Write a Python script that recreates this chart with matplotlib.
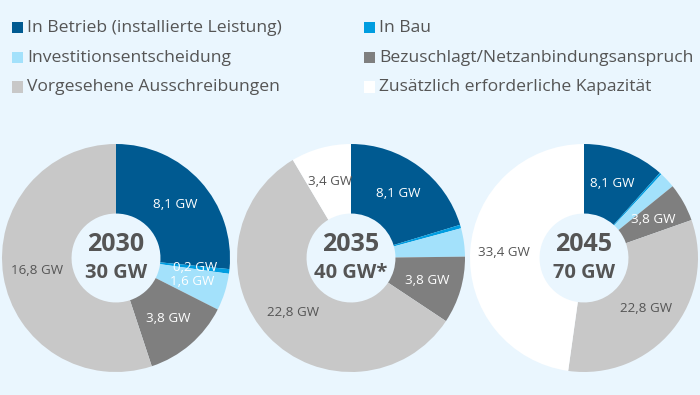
import matplotlib
matplotlib.use("Agg")
import matplotlib.pyplot as plt
from matplotlib.patches import Rectangle
import numpy as np

plt.rcParams['font.family'] = ['Open Sans', 'DejaVu Sans']

categories = ["In Betrieb (installierte Leistung)", "In Bau",
              "Investitionsentscheidung", "Bezuschlagt/Netzanbindungsanspruch",
              "Vorgesehene Ausschreibungen", "Zusätzlich erforderliche Kapazität"]
colors = ["#005a91", "#009de0", "#a3e1fb", "#7f7f7f", "#c8c8c8", "#ffffff"]

years = ["2030", "2035", "2045"]
totals = ["30 GW", "40 GW*", "70 GW"]
values_2030 = [8.1, 0.2, 1.6, 3.8, 16.8, 0.0]
values_2035 = [8.1, 0.2, 1.6, 3.8, 22.8, 3.4]
values_2045 = [8.1, 0.2, 1.6, 3.8, 22.8, 33.4]
labels_2030 = ["8,1 GW", "0,2 GW", "1,6 GW", "3,8 GW", "16,8 GW", None]
labels_2035 = ["8,1 GW", None, None, "3,8 GW", "22,8 GW", "3,4 GW"]
labels_2045 = ["8,1 GW", None, None, "3,8 GW", "22,8 GW", "33,4 GW"]

all_values = [values_2030, values_2035, values_2045]
all_labels = [labels_2030, labels_2035, labels_2045]

BG = "#eaf6fe"
TXT = "#555555"
W, H = 700, 395
fig = plt.figure(figsize=(7, 3.95), dpi=100, facecolor=BG)

# legend (manual, two columns)
col_x = [12, 364]
row_y = [27.5, 57.5, 87]
for i, (cat, col) in enumerate(zip(categories, colors)):
    c = i % 2
    r = i // 2
    x0 = col_x[c]
    y0 = row_y[r]
    sq = 11
    fig.add_artist(Rectangle((x0 / W, 1 - (y0 + sq / 2) / H), sq / W, sq / H,
                             transform=fig.transFigure, facecolor=col,
                             edgecolor='none'))
    fig.text((x0 + 15) / W, 1 - y0 / H, cat, fontsize=12.6, color=TXT,
             va='center', ha='left')

centers_x = [116, 351, 584]
center_y = 258
R = 114
inner = 0.39
label_r = 0.70
for k in range(3):
    cx = centers_x[k]
    ax = fig.add_axes([(cx - R) / W, (H - center_y - R) / H, 2 * R / W, 2 * R / H])
    ax.set_facecolor('none')
    vals = all_values[k]
    wedges, _ = ax.pie(vals, colors=colors, startangle=90, counterclock=False,
                       radius=1, wedgeprops=dict(width=1 - inner, edgecolor='none'))
    for w, lab, ci in zip(wedges, all_labels[k], range(6)):
        if lab is None:
            continue
        ang = np.deg2rad((w.theta1 + w.theta2) / 2)
        tc = 'white' if ci < 4 else TXT
        ax.text(label_r * np.cos(ang), label_r * np.sin(ang), lab, color=tc,
                fontsize=9.6, ha='center', va='center')
    ax.text(0, 0.115, years[k], fontsize=18, fontweight='bold', color=TXT,
            ha='center', va='center')
    ax.text(0, -0.135, totals[k], fontsize=14.5, fontweight='bold', color=TXT,
            ha='center', va='center')
    ax.set_xlim(-1, 1)
    ax.set_ylim(-1, 1)
    ax.set_aspect('equal')
    ax.axis('off')

fig.savefig("out.png", dpi=100, facecolor=BG)
